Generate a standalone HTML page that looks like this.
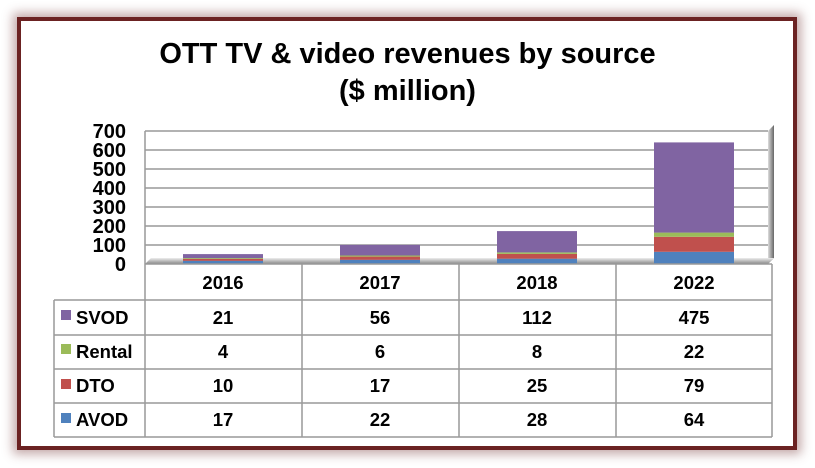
<!DOCTYPE html>
<html><head><style>
body{margin:0;width:815px;height:468px;background:#fff;position:relative;font-family:"Liberation Sans",Arial,sans-serif;overflow:hidden}
.frame{position:absolute;left:17px;top:17px;width:772px;height:425px;border:4px solid #6b2222;box-shadow:0 0 10px 4px rgba(120,60,60,.45)}
.t{position:absolute;left:0;width:815px;text-align:center;font-weight:bold;font-size:29px}
</style></head><body>
<div class="frame"></div>
<div class="t" style="top:38px">OTT TV &amp; video revenues by source</div>
<div class="t" style="top:75px">($ million)</div>
<svg width="815" height="468" style="position:absolute;left:0;top:0" font-family="Liberation Sans, Arial, sans-serif" font-weight="bold">
<defs><linearGradient id="sw" x1="0" x2="1"><stop offset="0" stop-color="#ddd"/><stop offset="1" stop-color="#666"/></linearGradient>
<linearGradient id="fl" x1="0" y1="0" x2="0" y2="1"><stop offset="0" stop-color="#eee"/><stop offset="1" stop-color="#888"/></linearGradient></defs>
<g stroke="#999" stroke-width="1.5">
<line x1="145" y1="131" x2="768" y2="131"/><line x1="145" y1="150" x2="768" y2="150"/><line x1="145" y1="169" x2="768" y2="169"/><line x1="145" y1="188" x2="768" y2="188"/><line x1="145" y1="207" x2="768" y2="207"/><line x1="145" y1="226" x2="768" y2="226"/><line x1="145" y1="245" x2="768" y2="245"/>
<line x1="145" y1="131" x2="145" y2="437"/>
</g>
<polygon points="768,131 774,125 774,258 768,264" fill="url(#sw)"/>
<polygon points="145,264 151,258 774,258 768,264" fill="url(#fl)"/>
<g font-size="20" text-anchor="end">
<text x="126" y="138">700</text><text x="126" y="157">600</text><text x="126" y="176">500</text><text x="126" y="195">400</text><text x="126" y="214">300</text><text x="126" y="233">200</text><text x="126" y="252">100</text><text x="126" y="271">0</text>
</g>
<g>
<rect x="183" y="260.8" width="80" height="3.2" fill="#4f81bd"/><rect x="183" y="258.9" width="80" height="1.9" fill="#c0504d"/><rect x="183" y="258.1" width="80" height=".8" fill="#9bbb59"/><rect x="183" y="254.1" width="80" height="4" fill="#8064a2"/>
<rect x="340" y="259.8" width="80" height="4.2" fill="#4f81bd"/><rect x="340" y="256.6" width="80" height="3.2" fill="#c0504d"/><rect x="340" y="255.5" width="80" height="1.1" fill="#9bbb59"/><rect x="340" y="244.9" width="80" height="10.6" fill="#8064a2"/>
<rect x="497" y="258.7" width="80" height="5.3" fill="#4f81bd"/><rect x="497" y="253.9" width="80" height="4.8" fill="#c0504d"/><rect x="497" y="252.4" width="80" height="1.5" fill="#9bbb59"/><rect x="497" y="231.1" width="80" height="21.3" fill="#8064a2"/>
<rect x="654" y="251.8" width="80" height="12.2" fill="#4f81bd"/><rect x="654" y="236.8" width="80" height="15" fill="#c0504d"/><rect x="654" y="232.6" width="80" height="4.2" fill="#9bbb59"/><rect x="654" y="142.4" width="80" height="90.2" fill="#8064a2"/>
</g>
<g stroke="#999" stroke-width="1.5" fill="none">
<line x1="145" y1="264" x2="772" y2="264"/>
<line x1="302" y1="264" x2="302" y2="437"/><line x1="459" y1="264" x2="459" y2="437"/><line x1="616" y1="264" x2="616" y2="437"/><line x1="772" y1="264" x2="772" y2="437"/>
<line x1="54" y1="300" x2="772" y2="300"/><line x1="54" y1="335" x2="772" y2="335"/><line x1="54" y1="369" x2="772" y2="369"/><line x1="54" y1="403" x2="772" y2="403"/><line x1="54" y1="437" x2="772" y2="437"/>
<line x1="54" y1="300" x2="54" y2="437"/>
</g>
<g font-size="18.5" text-anchor="middle">
<text x="223" y="289">2016</text><text x="380" y="289">2017</text><text x="537" y="289">2018</text><text x="694" y="289">2022</text>
<text x="223" y="324">21</text><text x="380" y="324">56</text><text x="537" y="324">112</text><text x="694" y="324">475</text>
<text x="223" y="358">4</text><text x="380" y="358">6</text><text x="537" y="358">8</text><text x="694" y="358">22</text>
<text x="223" y="392">10</text><text x="380" y="392">17</text><text x="537" y="392">25</text><text x="694" y="392">79</text>
<text x="223" y="426">17</text><text x="380" y="426">22</text><text x="537" y="426">28</text><text x="694" y="426">64</text>
</g>
<g font-size="18.5">
<rect x="61" y="310" width="10" height="10" fill="#8064a2"/><text x="76" y="324">SVOD</text>
<rect x="61" y="344" width="10" height="10" fill="#9bbb59"/><text x="76" y="358">Rental</text>
<rect x="61" y="379" width="10" height="10" fill="#c0504d"/><text x="76" y="392">DTO</text>
<rect x="61" y="413" width="10" height="10" fill="#4f81bd"/><text x="76" y="426">AVOD</text>
</g>
</svg>
</body></html>
